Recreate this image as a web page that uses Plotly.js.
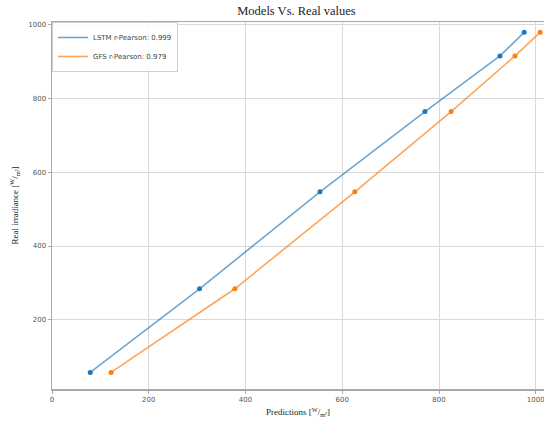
<!DOCTYPE html>
<html>
<head>
<meta charset="utf-8">
<script src="https://cdn.plot.ly/plotly-3.0.1.min.js"></script>
<style>html,body{margin:0;padding:0;background:#fff;}#chart{width:544px;height:423px;}</style>
</head>
<body>
<div id="chart"></div>
<script>
const realValues = [57, 284, 547, 765, 916, 980];
const lstmPred = [79, 305, 554, 771, 926, 976];
const gfsPred = [122, 378, 626, 825, 957, 1009];
const seriesNames = ["LSTM r-Pearson: 0.999", "GFS r-Pearson: 0.979"];
const tickVals = [0, 200, 400, 600, 800, 1000];

const blue = "#1f77b4", orange = "#ff7f0e";
const traces = [
  {x: lstmPred, y: realValues, mode: "lines", name: seriesNames[0],
   line: {color: "rgba(31,119,180,0.65)", width: 1.6}},
  {x: gfsPred, y: realValues, mode: "lines", name: seriesNames[1],
   line: {color: "rgba(255,127,14,0.7)", width: 1.6}},
  {x: lstmPred, y: realValues, mode: "markers", showlegend: false,
   marker: {color: blue, size: 5}},
  {x: gfsPred, y: realValues, mode: "markers", showlegend: false,
   marker: {color: orange, size: 5}}
];

const axisCommon = {
  showgrid: true, gridcolor: "#d9d9d9", gridwidth: 1,
  showline: true, linecolor: "#a8a8a8", linewidth: 1.5, mirror: true,
  ticks: "outside", ticklen: 3, tickcolor: "#a8a8a8",
  tickfont: {family: "DejaVu Sans", size: 7, color: "#555"},
  zeroline: false, tickvals: tickVals, ticklabeloverflow: "allow"
};

const layout = {
  width: 544, height: 423,
  margin: {l: 52, r: 0, t: 22, b: 34},
  paper_bgcolor: "#fff", plot_bgcolor: "#fff",
  showlegend: true,
  title: {text: "Models Vs. Real values", x: 0.545, xanchor: "center", y: 0.985, yanchor: "top",
          font: {family: "Liberation Serif", size: 12.5, color: "#222"}},
  xaxis: Object.assign({}, axisCommon, {
    range: [0, 1017],
    title: {text: "Predictions [<sup>W</sup>/<sub>m²</sub>]", standoff: 6,
            font: {family: "Liberation Serif", size: 9, color: "#222"}}
  }),
  yaxis: Object.assign({}, axisCommon, {
    range: [12, 1008],
    title: {text: "Real irradiance [<sup>W</sup>/<sub>m²</sub>]", standoff: 8,
            font: {family: "Liberation Serif", size: 9, color: "#222"}}
  }),
  legend: {x: 0.0, y: 1.0, xanchor: "left", yanchor: "top",
           bgcolor: "rgba(255,255,255,0.85)", bordercolor: "#d0d0d0", borderwidth: 1,
           font: {family: "DejaVu Sans", size: 7, color: "#444"},
           tracegroupgap: 0, itemwidth: 30}
};

Plotly.newPlot("chart", traces, layout, {displayModeBar: false, staticPlot: true});
</script>
</body>
</html>
